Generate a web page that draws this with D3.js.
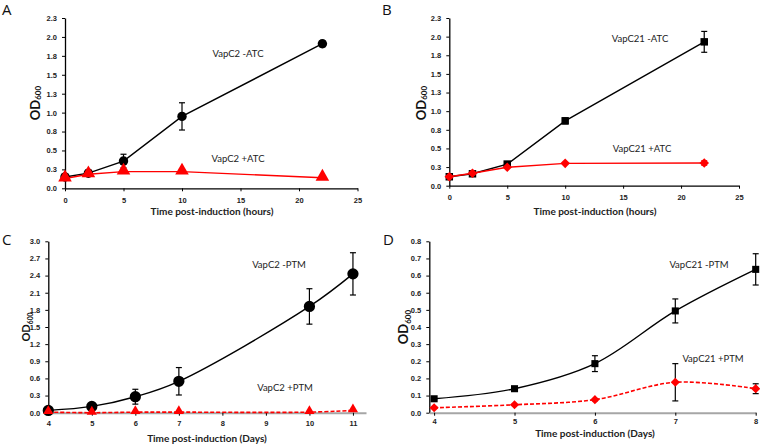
<!DOCTYPE html>
<html>
<head>
<meta charset="utf-8">
<script src="https://cdn.jsdelivr.net/npm/d3@7"></script>
<style>
  html, body { margin: 0; padding: 0; background: #fff; }
  svg { display: block; font-family: Lato, "Liberation Sans", sans-serif; }
</style>
</head>
<body>
<svg id="chart" width="760" height="444"></svg>
<script>
// ---------- DATA ----------
// Panel A: VapC2, hours
const hoursA = [0, 2, 5, 10, 22];
const vapC2MinusATC = [0.15, 0.20, 0.36, 0.95, 1.91];
const vapC2MinusATCErr = [0.02, 0.04, 0.09, 0.18, 0.04];
const vapC2PlusATC = [0.13, 0.185, 0.22, 0.22, 0.14];

// Panel B: VapC21, hours
const hoursB = [0, 2, 5, 10, 22];
const vapC21MinusATC = [0.12, 0.16, 0.29, 0.87, 1.93];
const vapC21MinusATCErr = [0.01, 0.01, 0.02, 0.04, 0.14];
const vapC21PlusATC = [0.12, 0.167, 0.247, 0.30, 0.305];
const vapC21PlusATCErr = [0.01, 0.01, 0.01, 0.01, 0.03];

// Panel C: VapC2, days
const daysC = [4, 5, 6, 7, 10, 11];
const vapC2MinusPTM = [0.04, 0.11, 0.28, 0.55, 1.86, 2.43];
const vapC2MinusPTMErr = [0.01, 0.02, 0.13, 0.24, 0.31, 0.37];
const vapC2PlusPTM = [0.01, 0.00, 0.01, 0.01, 0.01, 0.04];

// Panel D: VapC21, days
const daysD = [4, 5, 6, 7, 8];
const vapC21MinusPTM = [0.065, 0.112, 0.229, 0.475, 0.669];
const vapC21MinusPTMErr = [0.005, 0.006, 0.037, 0.056, 0.073];
const vapC21PlusPTM = [0.023, 0.037, 0.061, 0.142, 0.112];
const vapC21PlusPTMErr = [0.003, 0.004, 0.005, 0.087, 0.023];

// Tick values and labels
const yTicksAB = [0, 0.25, 0.5, 0.75, 1.0, 1.25, 1.5, 1.75, 2.0, 2.25];
const yTickLabelsAB = ["0.0", "0.3", "0.5", "0.8", "1.0", "1.3", "1.5", "1.8", "2.0", "2.3"];
const xTicksAB = [0, 5, 10, 15, 20, 25];
const yTicksC = [0, 0.3, 0.6, 0.9, 1.2, 1.5, 1.8, 2.1, 2.4, 2.7, 3.0];
const yTickLabelsC = ["0.0", "0.3", "0.6", "0.9", "1.2", "1.5", "1.8", "2.1", "2.4", "2.7", "3.0"];
const xTicksC = [4, 5, 6, 7, 8, 9, 10, 11];
const yTicksD = [0, 0.08, 0.16, 0.24, 0.32, 0.40, 0.48, 0.56, 0.64, 0.72, 0.80];
const yTickLabelsD = ["0.0", "0.1", "0.2", "0.2", "0.3", "0.4", "0.5", "0.6", "0.6", "0.7", "0.8"];
const xTicksD = [4, 5, 6, 7, 8];

// ---------- DRAW ----------
const svg = d3.select("#chart");
const RED = "#ff0000";

function panel(cfg) {
  const g = svg.append("g");
  const x = d3.scaleLinear().domain(cfg.xDomain).range(cfg.xRange);
  const y = d3.scaleLinear().domain(cfg.yDomain).range(cfg.yRange);

  // Y axis
  const yAxis = d3.axisLeft(y).tickValues(cfg.yTicks)
    .tickFormat((d, i) => cfg.yLabels[i]).tickSize(3).tickPadding(5).tickSizeOuter(0);
  const ya = g.append("g").attr("transform", `translate(${cfg.xRange[0]},0)`).call(yAxis);
  ya.select(".domain").attr("stroke", "#000").attr("stroke-width", 1.3);
  ya.selectAll(".tick line").attr("stroke", "#000");
  ya.selectAll("text").attr("font-size", 7.5).attr("font-weight", "bold").attr("fill", "#222");

  // X axis
  const xAxis = d3.axisBottom(x).tickValues(cfg.xTicks).tickFormat(d3.format("d"))
    .tickSize(3).tickPadding(cfg.xPad).tickSizeOuter(0);
  const xa = g.append("g").attr("transform", `translate(0,${cfg.yRange[0]})`).call(xAxis);
  xa.select(".domain").attr("stroke", cfg.xAxisColor).attr("stroke-width", cfg.xAxisWidth);
  xa.selectAll(".tick line").attr("stroke", "#000");
  xa.selectAll("text").attr("font-size", 7.5).attr("font-weight", "bold").attr("fill", "#222");

  // Series
  cfg.series.forEach(s => {
    const pts = cfg.xs.map((d, i) => ({ x: d, y: s.values[i], e: s.err ? s.err[i] : 0 }));
    const line = d3.line().x(d => x(d.x)).y(d => y(d.y)).curve(cfg.curve);
    g.append("path").datum(pts).attr("d", line).attr("fill", "none")
      .attr("stroke", s.color).attr("stroke-width", s.width || 1.4)
      .attr("stroke-dasharray", s.dash || null);
    // error bars
    if (s.err) {
      const eb = g.append("g").attr("stroke", s.barColor || s.color).attr("stroke-width", 1.2);
      pts.forEach(p => {
        if (y(p.y - p.e) - y(p.y + p.e) < 2) return;
        eb.append("line").attr("x1", x(p.x)).attr("x2", x(p.x)).attr("y1", y(p.y - p.e)).attr("y2", y(p.y + p.e));
        eb.append("line").attr("x1", x(p.x) - 3).attr("x2", x(p.x) + 3).attr("y1", y(p.y + p.e)).attr("y2", y(p.y + p.e));
        eb.append("line").attr("x1", x(p.x) - 3).attr("x2", x(p.x) + 3).attr("y1", y(p.y - p.e)).attr("y2", y(p.y - p.e));
      });
    }
    // markers
    const sym = d3.symbol().type(s.symbol).size(s.size);
    g.append("g").selectAll("path").data(pts).join("path")
      .attr("d", sym)
      .attr("transform", d => `translate(${x(d.x)},${y(d.y) + (s.yOff || 0)})${s.rotate ? " rotate(45)" : ""}`)
      .attr("fill", s.color);
  });

  // series labels
  cfg.labels.forEach(l => {
    g.append("text").attr("x", l.x).attr("y", l.y).attr("text-anchor", "middle")
      .attr("font-size", 9.5).attr("fill", "#222").text(l.text);
  });

  // axis titles
  g.append("text").attr("x", cfg.xTitle.x).attr("y", cfg.xTitle.y).attr("text-anchor", "middle")
    .attr("font-size", 10).attr("font-weight", "bold").attr("fill", "#222").text(cfg.xTitle.text);
  const yt = g.append("text")
    .attr("transform", `translate(${cfg.yTitle.x},${cfg.yTitle.y}) rotate(-90)`)
    .attr("text-anchor", "middle").attr("font-weight", "bold").attr("fill", "#111")
    .attr("font-size", cfg.yTitle.size);
  yt.append("tspan").text("OD");
  yt.append("tspan").attr("font-size", cfg.yTitle.size * 0.62).attr("dy", cfg.yTitle.subDy).text("600");

  // panel letter
  svg.append("text").attr("x", cfg.letter.x).attr("y", cfg.letter.y)
    .attr("font-size", 15).attr("fill", "#111").attr("font-family", "'Open Sans', sans-serif").text(cfg.letter.text);
}

panel({
  xDomain: [0, 25], xRange: [65, 357.5], yDomain: [0, 2.25], yRange: [188.3, 18],
  yTicks: yTicksAB, yLabels: yTickLabelsAB, xTicks: xTicksAB, xPad: 6,
  xAxisColor: "#000", xAxisWidth: 1.3, curve: d3.curveLinear, xs: hoursA,
  series: [
    { values: vapC2MinusATC, err: vapC2MinusATCErr, color: "#000", symbol: d3.symbolCircle, size: 70 },
    { values: vapC2PlusATC, color: RED, symbol: d3.symbolTriangle, size: 80, yOff: -1 }
  ],
  labels: [{ x: 238, y: 57, text: "VapC2 -ATC" }, { x: 238, y: 162, text: "VapC2 +ATC" }],
  xTitle: { x: 212, y: 215, text: "Time post-induction (hours)" },
  yTitle: { x: 40, y: 103, size: 13, subDy: 1 },
  letter: { x: 2, y: 15, text: "A" }
});

panel({
  xDomain: [0, 25], xRange: [449.3, 739], yDomain: [0, 2.25], yRange: [185.7, 18],
  yTicks: yTicksAB, yLabels: yTickLabelsAB, xTicks: xTicksAB, xPad: 6,
  xAxisColor: "#000", xAxisWidth: 1.3, curve: d3.curveLinear, xs: hoursB,
  series: [
    { values: vapC21MinusATC, err: vapC21MinusATCErr, color: "#000", symbol: d3.symbolSquare, size: 56 },
    { values: vapC21PlusATC, err: vapC21PlusATCErr, color: RED, symbol: d3.symbolSquare, size: 46, rotate: true }
  ],
  labels: [{ x: 640, y: 42, text: "VapC21 -ATC" }, { x: 642, y: 152, text: "VapC21 +ATC" }],
  xTitle: { x: 595, y: 215, text: "Time post-induction (hours)" },
  yTitle: { x: 426, y: 103, size: 13, subDy: 1 },
  letter: { x: 382, y: 15, text: "B" }
});

panel({
  xDomain: [4, 11.3], xRange: [48.3, 366], yDomain: [0, 3.0], yRange: [412.7, 241.3],
  yTicks: yTicksC, yLabels: yTickLabelsC, xTicks: xTicksC, xPad: 5,
  xAxisColor: "#a6a6a6", xAxisWidth: 2, curve: d3.curveCatmullRom.alpha(0.5), xs: daysC,
  series: [
    { values: vapC2MinusPTM, err: vapC2MinusPTMErr, color: "#000", symbol: d3.symbolCircle, size: 100 },
    { values: vapC2PlusPTM, color: RED, symbol: d3.symbolTriangle, size: 45, dash: "4,2", width: 1.6, yOff: -1 }
  ],
  labels: [{ x: 279, y: 268, text: "VapC2 -PTM" }, { x: 285, y: 391, text: "VapC2 +PTM" }],
  xTitle: { x: 207, y: 442, text: "Time post-induction (Days)" },
  yTitle: { x: 30, y: 327, size: 11, subDy: 3 },
  letter: { x: 2, y: 245, text: "C" }
});

panel({
  xDomain: [3.94, 8], xRange: [429.3, 755.7], yDomain: [0, 0.8], yRange: [412.7, 241.3],
  yTicks: yTicksD, yLabels: yTickLabelsD, xTicks: xTicksD, xPad: 3,
  xAxisColor: "#a6a6a6", xAxisWidth: 2, curve: d3.curveCatmullRom.alpha(0.5), xs: daysD,
  series: [
    { values: vapC21MinusPTM, err: vapC21MinusPTMErr, color: "#000", symbol: d3.symbolSquare, size: 50 },
    { values: vapC21PlusPTM, err: vapC21PlusPTMErr, barColor: "#000", color: RED, symbol: d3.symbolSquare, size: 42, rotate: true, dash: "4,2", width: 1.6 }
  ],
  labels: [{ x: 699, y: 268, text: "VapC21 -PTM" }, { x: 713, y: 362, text: "VapC21 +PTM" }],
  xTitle: { x: 595, y: 437, text: "Time post-induction (Days)" },
  yTitle: { x: 408, y: 327, size: 13, subDy: 3 },
  letter: { x: 383, y: 245, text: "D" }
});
</script>
</body>
</html>
